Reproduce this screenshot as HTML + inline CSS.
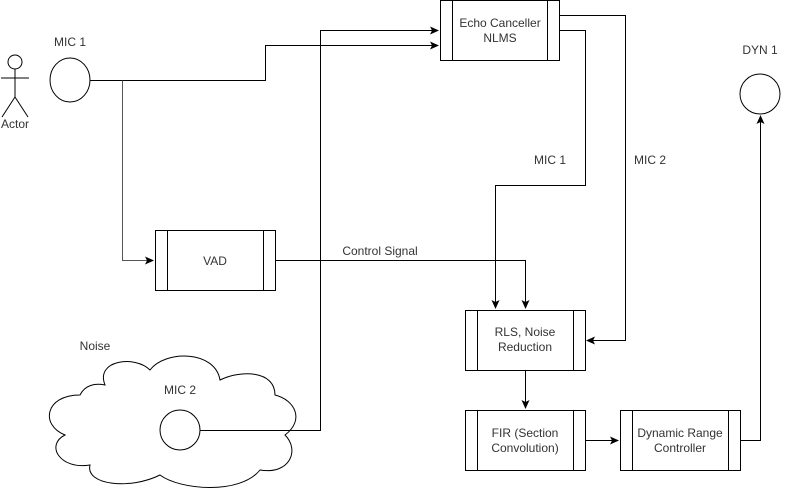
<!DOCTYPE html>
<html><head><style>body{margin:0;background:#fff}svg{display:block}text{font-family:"Liberation Sans",sans-serif;font-size:12px;fill:#333}</style></head><body>
<svg width="791" height="491" viewBox="0 0 791 491" xmlns="http://www.w3.org/2000/svg">
<defs><marker id="a" markerWidth="10" markerHeight="10" refX="8" refY="5" orient="auto" markerUnits="userSpaceOnUse"><path d="M0,1 L9,5 L0,9 L2,5 Z" fill="#000"/></marker></defs>
<g fill="none" stroke="#000" stroke-width="1">
<!-- actor -->
<circle cx="15" cy="62" r="7"/><path d="M15,69 V97 M1,78 H29 M15,97 L2,117 M15,97 L28,117"/>
<ellipse cx="70" cy="80" rx="20" ry="22"/>
<circle cx="760" cy="94" r="20"/>
<!-- boxes -->
<rect x="440.5" y="0.5" width="119" height="60"/><path d="M452.5,0 V61 M547.5,0 V61"/>
<rect x="155.5" y="230.5" width="120" height="60"/><path d="M167.5,230 V291 M263.5,230 V291"/>
<rect x="465.5" y="310.5" width="120" height="60"/><path d="M477.5,310 V371 M573.5,310 V371"/>
<rect x="465.5" y="410.5" width="120" height="60"/><path d="M477.5,410 V471 M573.5,410 V471"/>
<rect x="620.5" y="410.5" width="120" height="60"/><path d="M632.5,410 V471 M728.5,410 V471"/>
<!-- cloud -->
<path d="M105,385 C95,360 135,355 150,370 C165,350 215,350 220,380 C240,370 275,370 275,395 C295,400 305,420 285,435 C300,450 290,475 260,470 C240,495 180,490 160,475 C130,490 85,485 90,465 C60,470 45,445 65,435 C40,425 45,395 80,395 C85,385 95,383 105,385 Z"/>
<ellipse cx="180" cy="430" rx="20" ry="20"/>
<!-- connectors -->
<path d="M90.5,80.5 H265.5 V45.5 H438" marker-end="url(#a)"/>
<path d="M122.5,80.5 V260.5 H153" marker-end="url(#a)" stroke="#555"/>
<path d="M200,430.5 H320.5 V30.5 H438" marker-end="url(#a)"/>
<path d="M275,260.5 H525.5 V308" marker-end="url(#a)"/>
<path d="M560,15.5 H625.5 V340.5 H587" marker-end="url(#a)"/>
<path d="M560,30.5 H585.5 V185.5 H495.5 V308" marker-end="url(#a)"/>
<path d="M525.5,371 V408" marker-end="url(#a)"/>
<path d="M586,440.5 H618" marker-end="url(#a)"/>
<path d="M741,440.5 H760.5 V116" marker-end="url(#a)"/>
</g>
<g text-anchor="middle">
<text x="70" y="46">MIC 1</text>
<text x="15" y="128">Actor</text>
<text x="500" y="27">Echo Canceller</text><text x="500" y="42">NLMS</text>
<text x="215" y="265">VAD</text>
<text x="380" y="255">Control Signal</text>
<text x="550" y="164">MIC 1</text>
<text x="650" y="164">MIC 2</text>
<text x="760" y="54">DYN 1</text>
<text x="525" y="336">RLS, Noise</text><text x="525" y="351">Reduction</text>
<text x="525" y="437">FIR (Section</text><text x="525" y="452">Convolution)</text>
<text x="680" y="437">Dynamic Range</text><text x="680" y="452">Controller</text>
<text x="95" y="350">Noise</text>
<text x="180" y="394">MIC 2</text>
</g>
</svg>
</body></html>
